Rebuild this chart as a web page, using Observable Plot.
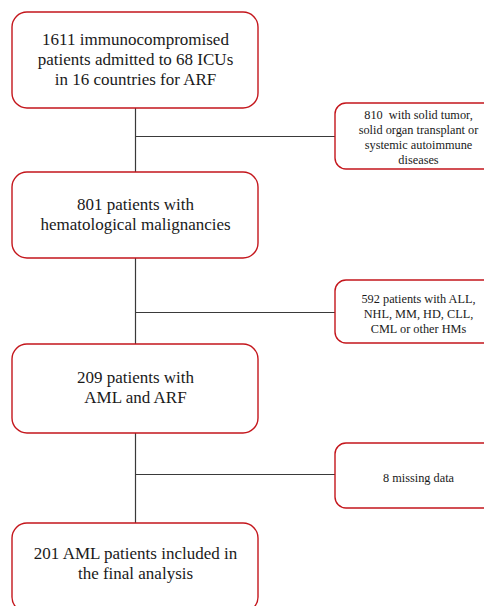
<!DOCTYPE html>
<html>
<head>
<meta charset="utf-8">
<script src="https://cdn.jsdelivr.net/npm/d3@7"></script>
<script src="https://cdn.jsdelivr.net/npm/@observablehq/plot@0.6"></script>
<style>
  html, body { margin: 0; padding: 0; background: #fff; overflow: hidden; }
  #chart svg { display: block; }
  #chart svg text { font-family: "Liberation Serif", "Times New Roman", serif !important; }
</style>
</head>
<body>
<div id="chart"></div>
<script>
// ---- data ----
const stepLabels = [
  "1611 immunocompromised\npatients admitted to 68 ICUs\nin 16 countries for ARF",
  "801 patients with\nhematological malignancies",
  "209 patients with\nAML and ARF",
  "201 AML patients included in\nthe final analysis"
];
const exclusionLabels = [
  "810  with solid tumor,\nsolid organ transplant or\nsystemic autoimmune\ndiseases",
  "592 patients with ALL,\nNHL, MM, HD, CLL,\nCML or other HMs",
  "8 missing data"
];

// ---- layout (pixel-space scales) ----
const W = 484, H = 606;
const layout = {
  mainX1: 12, mainX2: 258, mainCx: 135,
  mainTop: [12, 172, 344, 523],
  mainBot: [108, 258, 433, 612],
  textShift: [-2, -2, -2, -5],
  sideX1: 335, sideX2: 502, sideCx: 418,
  sideTop: [103, 280, 443],
  sideBot: [169, 343, 508],
  sideShift: [0, 1, 1],
  branchY: [136, 312, 474]
};

const steps = stepLabels.map((label, i) => ({
  label,
  x1: layout.mainX1, x2: layout.mainX2,
  y1: layout.mainTop[i], y2: layout.mainBot[i],
  cx: layout.mainCx, cy: (layout.mainTop[i] + layout.mainBot[i]) / 2 + layout.textShift[i]
}));
const exclusions = exclusionLabels.map((label, i) => ({
  label,
  x1: layout.sideX1, x2: layout.sideX2,
  y1: layout.sideTop[i], y2: layout.sideBot[i],
  cx: layout.sideCx, cy: (layout.sideTop[i] + layout.sideBot[i]) / 2 + layout.sideShift[i]
}));
const verticals = steps.slice(1).map((s, i) => ({
  x: layout.mainCx, y1: steps[i].y2, y2: s.y1
}));
const branches = exclusions.map((e, i) => ({
  x1: layout.mainCx, x2: e.x1, y: layout.branchY[i]
}));

const chart = Plot.plot({
  width: W,
  height: H,
  margin: 0,
  x: { type: "linear", domain: [0, W], range: [0, W], axis: null },
  y: { type: "linear", domain: [0, H], range: [0, H], axis: null },
  style: { background: "#fff", fontFamily: "Liberation Serif" },
  marks: [
    Plot.ruleX(verticals, { x: "x", y1: "y1", y2: "y2", stroke: "#3a3a3a", strokeWidth: 1.2 }),
    Plot.ruleY(branches, { y: "y", x1: "x1", x2: "x2", stroke: "#3a3a3a", strokeWidth: 1.2 }),
    Plot.rect(steps, { x1: "x1", x2: "x2", y1: "y1", y2: "y2", rx: 15, fill: "#fff", stroke: "#c4161c", strokeWidth: 1.4 }),
    Plot.rect(exclusions, { x1: "x1", x2: "x2", y1: "y1", y2: "y2", rx: 11, fill: "#fff", stroke: "#c4161c", strokeWidth: 1.4 }),
    Plot.text(steps, { x: "cx", y: "cy", text: "label", fontSize: 17, lineHeight: 1.18, fill: "#1a1a1a", textAnchor: "middle", lineAnchor: "middle" }),
    Plot.text(exclusions, { x: "cx", y: "cy", text: "label", fontSize: 12.3, lineHeight: 1.22, fill: "#1a1a1a", textAnchor: "middle", lineAnchor: "middle" })
  ]
});
document.getElementById("chart").appendChild(chart);
</script>
</body>
</html>
